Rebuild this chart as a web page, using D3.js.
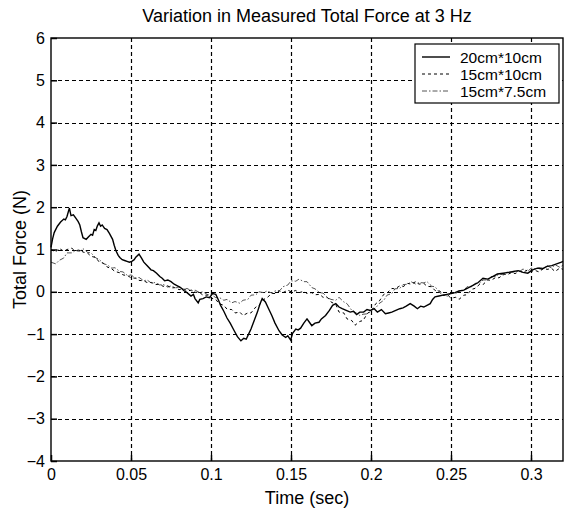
<!DOCTYPE html>
<html>
<head>
<meta charset="utf-8">
<script src="https://cdn.jsdelivr.net/npm/d3@7"></script>
<style>
  body { margin: 0; background: #fff; }
  text { font-family: "Liberation Sans", Arial, sans-serif; fill: #000; }
</style>
</head>
<body>
<div id="container"></div>
<script>
var width = 565,
    height = 511;

var margin = {top: 38, right: 2, bottom: 50, left: 51};

var xTicks = [0, 0.05, 0.1, 0.15, 0.2, 0.25, 0.3];
var yTicks = [-4, -3, -2, -1, 0, 1, 2, 3, 4, 5, 6];
var seriesNames = ["20cm*10cm", "15cm*10cm", "15cm*7.5cm"];

// 20cm*10cm (solid)
var force20x10 = [
    [0.000, 1.05], [0.001, 1.25], [0.002, 1.40], [0.004, 1.55], [0.006, 1.65],
    [0.008, 1.72], [0.009, 1.70], [0.010, 1.78], [0.0115, 1.98], [0.0125, 1.80],
    [0.014, 1.82], [0.0155, 1.74], [0.017, 1.66], [0.018, 1.58], [0.019, 1.42],
    [0.020, 1.28], [0.022, 1.24], [0.0235, 1.30], [0.025, 1.36], [0.026, 1.34],
    [0.027, 1.47], [0.028, 1.45], [0.029, 1.56], [0.030, 1.63], [0.031, 1.55],
    [0.032, 1.58], [0.0335, 1.50], [0.035, 1.47], [0.0365, 1.38], [0.0385, 1.24],
    [0.0395, 1.10], [0.0406, 0.97], [0.042, 0.86], [0.043, 0.81], [0.0445, 0.76],
    [0.046, 0.74], [0.0475, 0.72], [0.049, 0.70], [0.0505, 0.72], [0.052, 0.76],
    [0.053, 0.82], [0.055, 0.89], [0.0565, 0.80], [0.058, 0.70], [0.060, 0.62],
    [0.0625, 0.52], [0.064, 0.50], [0.066, 0.44], [0.068, 0.36], [0.0695, 0.32],
    [0.071, 0.26], [0.073, 0.28], [0.075, 0.24], [0.077, 0.18], [0.079, 0.14],
    [0.081, 0.10], [0.083, 0.03], [0.085, -0.02], [0.0875, -0.10], [0.089, -0.06],
    [0.090, -0.16], [0.092, -0.26], [0.093, -0.18], [0.095, -0.16], [0.097, -0.12],
    [0.099, -0.14], [0.101, -0.04], [0.103, -0.06], [0.1045, -0.18], [0.106, -0.32],
    [0.108, -0.46], [0.110, -0.62], [0.112, -0.74], [0.1145, -0.92], [0.1165, -1.06],
    [0.1187, -1.16], [0.1205, -1.10], [0.122, -1.12], [0.1235, -1.00], [0.125, -0.88],
    [0.127, -0.68], [0.129, -0.48], [0.1305, -0.30], [0.132, -0.16], [0.134, -0.24],
    [0.136, -0.40], [0.138, -0.56], [0.140, -0.74], [0.1425, -0.92], [0.1445, -1.02],
    [0.1467, -1.08], [0.148, -1.04], [0.1498, -1.14], [0.151, -0.98], [0.153, -0.88],
    [0.1545, -0.90], [0.156, -0.86], [0.158, -0.74], [0.160, -0.64], [0.1615, -0.72],
    [0.163, -0.80], [0.165, -0.74], [0.1675, -0.72], [0.169, -0.64], [0.1716, -0.56],
    [0.174, -0.44], [0.176, -0.32], [0.178, -0.28], [0.180, -0.36], [0.182, -0.40],
    [0.1845, -0.44], [0.187, -0.48], [0.189, -0.46], [0.191, -0.54], [0.193, -0.48],
    [0.1954, -0.48], [0.1975, -0.42], [0.1996, -0.44], [0.202, -0.40], [0.204, -0.48],
    [0.2065, -0.42], [0.209, -0.52], [0.211, -0.50], [0.213, -0.48], [0.2155, -0.44],
    [0.218, -0.40], [0.220, -0.38], [0.222, -0.34], [0.2245, -0.28], [0.227, -0.34],
    [0.229, -0.40], [0.231, -0.34], [0.233, -0.36], [0.235, -0.32], [0.237, -0.28],
    [0.2385, -0.18], [0.240, -0.12], [0.2425, -0.10], [0.245, -0.08], [0.2475, -0.06],
    [0.250, -0.04], [0.2525, -0.02], [0.255, 0.02], [0.258, 0.04], [0.261, 0.10],
    [0.264, 0.16], [0.267, 0.22], [0.270, 0.32], [0.273, 0.30], [0.276, 0.36],
    [0.279, 0.42], [0.2826, 0.44], [0.286, 0.46], [0.289, 0.48], [0.292, 0.50],
    [0.295, 0.46], [0.298, 0.44], [0.301, 0.52], [0.304, 0.56], [0.307, 0.54],
    [0.310, 0.60], [0.313, 0.62], [0.316, 0.66], [0.319, 0.70], [0.320, 0.72]
];

// 15cm*10cm (dashed)
var force15x10 = [
    [0.000, 1.00], [0.003, 0.94], [0.005, 1.03], [0.008, 0.96], [0.010, 1.00],
    [0.013, 1.03], [0.015, 0.97], [0.018, 0.99], [0.020, 0.94], [0.023, 0.91],
    [0.025, 0.84], [0.028, 0.81], [0.030, 0.71], [0.033, 0.67], [0.035, 0.59],
    [0.038, 0.54], [0.040, 0.48], [0.043, 0.45], [0.045, 0.40], [0.048, 0.38],
    [0.050, 0.33], [0.053, 0.32], [0.055, 0.27], [0.058, 0.26], [0.060, 0.22],
    [0.063, 0.22], [0.065, 0.17], [0.068, 0.18], [0.070, 0.13], [0.073, 0.14],
    [0.075, 0.09], [0.078, 0.10], [0.080, 0.05], [0.083, 0.07], [0.085, 0.02],
    [0.088, 0.04], [0.090, -0.01], [0.093, -0.02], [0.095, -0.08], [0.098, -0.08],
    [0.100, -0.15], [0.103, -0.18], [0.105, -0.28], [0.108, -0.32], [0.110, -0.41],
    [0.113, -0.42], [0.115, -0.50], [0.118, -0.48], [0.120, -0.56], [0.123, -0.50],
    [0.125, -0.50], [0.128, -0.36], [0.130, -0.32], [0.133, -0.18], [0.135, -0.14],
    [0.138, -0.04], [0.140, -0.04], [0.143, 0.02], [0.145, -0.02], [0.148, 0.04],
    [0.150, 0.00], [0.153, 0.03], [0.155, -0.02], [0.158, 0.01], [0.160, -0.04],
    [0.163, -0.02], [0.165, -0.07], [0.168, -0.06], [0.170, -0.13], [0.173, -0.14],
    [0.175, -0.24], [0.178, -0.30], [0.180, -0.48], [0.183, -0.50], [0.185, -0.64],
    [0.188, -0.68], [0.190, -0.79], [0.193, -0.70], [0.195, -0.68], [0.198, -0.50],
    [0.200, -0.47], [0.203, -0.28], [0.205, -0.23], [0.208, -0.06], [0.210, -0.03],
    [0.213, 0.08], [0.215, 0.07], [0.218, 0.14], [0.220, 0.12], [0.223, 0.20],
    [0.225, 0.18], [0.228, 0.24], [0.230, 0.18], [0.233, 0.20], [0.235, 0.13],
    [0.238, 0.12], [0.240, 0.03], [0.243, 0.02], [0.245, -0.08], [0.248, -0.08],
    [0.250, -0.15], [0.253, -0.13], [0.255, -0.18], [0.258, -0.08], [0.260, -0.07],
    [0.263, 0.06], [0.265, 0.08], [0.268, 0.18], [0.270, 0.17], [0.273, 0.28],
    [0.275, 0.27], [0.278, 0.34], [0.280, 0.33], [0.283, 0.42], [0.285, 0.40],
    [0.288, 0.46], [0.290, 0.43], [0.293, 0.49], [0.295, 0.46], [0.298, 0.52],
    [0.300, 0.48], [0.303, 0.50], [0.305, 0.47], [0.308, 0.56], [0.310, 0.53],
    [0.313, 0.55], [0.315, 0.48], [0.318, 0.56], [0.320, 0.53]
];

// 15cm*7.5cm (dash-dot)
var force15x75 = [
    [0.000, 0.70], [0.003, 0.66], [0.005, 0.74], [0.008, 0.80], [0.010, 0.92],
    [0.013, 0.92], [0.015, 0.97], [0.018, 0.96], [0.020, 1.02], [0.023, 0.93],
    [0.025, 0.92], [0.028, 0.80], [0.030, 0.77], [0.033, 0.66], [0.035, 0.64],
    [0.038, 0.56], [0.040, 0.57], [0.043, 0.48], [0.045, 0.47], [0.048, 0.38],
    [0.050, 0.40], [0.053, 0.32], [0.055, 0.34], [0.058, 0.26], [0.060, 0.28],
    [0.063, 0.20], [0.065, 0.22], [0.068, 0.16], [0.070, 0.18], [0.073, 0.11],
    [0.075, 0.14], [0.078, 0.09], [0.080, 0.12], [0.083, 0.05], [0.085, 0.08],
    [0.088, 0.02], [0.090, 0.04], [0.093, -0.02], [0.095, 0.00], [0.098, -0.07],
    [0.100, -0.06], [0.103, -0.14], [0.105, -0.13], [0.108, -0.20], [0.110, -0.18],
    [0.113, -0.26], [0.115, -0.23], [0.118, -0.27], [0.120, -0.20], [0.123, -0.18],
    [0.125, -0.08], [0.128, -0.07], [0.130, 0.00], [0.133, -0.02], [0.135, 0.02],
    [0.138, -0.03], [0.140, 0.02], [0.143, 0.03], [0.145, 0.12], [0.148, 0.16],
    [0.150, 0.26], [0.153, 0.25], [0.155, 0.30], [0.158, 0.24], [0.160, 0.24],
    [0.163, 0.10], [0.165, 0.07], [0.168, -0.02], [0.170, -0.03], [0.173, -0.14],
    [0.175, -0.18], [0.178, -0.20], [0.180, -0.13], [0.183, -0.24], [0.185, -0.28],
    [0.188, -0.44], [0.190, -0.48], [0.193, -0.56], [0.195, -0.53], [0.198, -0.52],
    [0.200, -0.43], [0.203, -0.38], [0.205, -0.28], [0.208, -0.20], [0.210, -0.08],
    [0.213, -0.04], [0.215, 0.07], [0.218, 0.08], [0.220, 0.17], [0.223, 0.18],
    [0.225, 0.24], [0.228, 0.18], [0.230, 0.22], [0.233, 0.21], [0.235, 0.24],
    [0.238, 0.13], [0.240, 0.12], [0.243, -0.02], [0.245, -0.08], [0.248, -0.10],
    [0.250, -0.03], [0.253, -0.04], [0.255, 0.02], [0.258, 0.03], [0.260, 0.12],
    [0.263, 0.12], [0.265, 0.20], [0.268, 0.20], [0.270, 0.28], [0.273, 0.28],
    [0.275, 0.36], [0.278, 0.36], [0.280, 0.42], [0.283, 0.40], [0.285, 0.47],
    [0.288, 0.46], [0.290, 0.48], [0.293, 0.48], [0.295, 0.54], [0.298, 0.48],
    [0.300, 0.56], [0.303, 0.54], [0.305, 0.57], [0.308, 0.56], [0.310, 0.62],
    [0.313, 0.56], [0.315, 0.64], [0.318, 0.58], [0.320, 0.63]
];

var svg = d3.select("#container")
    .append("svg")
    .attr("width", width)
    .attr("height", height);

var x = d3.scaleLinear()
    .domain([0, 0.32])
    .range([margin.left, width - margin.right]);

var y = d3.scaleLinear()
    .domain([-4, 6])
    .range([height - margin.bottom, margin.top]);

// grid
var grid = svg.append("g")
    .attr("stroke", "#000")
    .attr("stroke-width", 1.2)
    .attr("stroke-dasharray", "4,3");

grid.selectAll("line.vx")
    .data(xTicks.slice(1))
    .enter().append("line")
    .attr("x1", function (d) { return Math.round(x(d)) + 0.5; })
    .attr("x2", function (d) { return Math.round(x(d)) + 0.5; })
    .attr("y1", y(6))
    .attr("y2", y(-4));

grid.selectAll("line.hy")
    .data(yTicks.slice(1, -1))
    .enter().append("line")
    .attr("x1", x(0))
    .attr("x2", x(0.32))
    .attr("y1", function (d) { return Math.round(y(d)) + 0.5; })
    .attr("y2", function (d) { return Math.round(y(d)) + 0.5; });

// series
var line = d3.line()
    .x(function (d) { return x(d[0]); })
    .y(function (d) { return y(d[1]); });

var series = [
    {name: seriesNames[0], values: force20x10, dash: null, color: "#000", w: 1.4},
    {name: seriesNames[1], values: force15x10, dash: "3,3", color: "#000", w: 1},
    {name: seriesNames[2], values: force15x75, dash: "5,2,1.5,2", color: "#555", w: 1}
];

svg.append("g")
    .selectAll("path")
    .data(series.slice().reverse())
    .enter()
    .append("path")
    .attr("d", function (d) { return line(d.values); })
    .attr("fill", "none")
    .attr("stroke", function (d) { return d.color; })
    .attr("stroke-width", function (d) { return d.w; })
    .attr("stroke-dasharray", function (d) { return d.dash; });

// axes (MATLAB style, ticks inside)
var xAxis = svg.append("g")
    .attr("transform", "translate(0," + y(-4) + ")")
    .call(d3.axisBottom(x).tickValues(xTicks).tickSize(-6).tickPadding(8)
        .tickFormat(function (d) { return d === 0 ? "0" : String(d); }));

var yAxis = svg.append("g")
    .attr("transform", "translate(" + x(0) + ",0)")
    .call(d3.axisLeft(y).tickValues(yTicks).tickSize(-6).tickPadding(6));

[xAxis, yAxis].forEach(function (a) {
    a.select(".domain").remove();
    a.selectAll("text")
        .style("font-family", "'Liberation Sans', Arial, sans-serif")
        .style("font-size", "16px")
        .attr("fill", "#000");
    a.selectAll("line").attr("stroke", "#000").attr("stroke-width", 1.5);
});

// frame
svg.append("rect")
    .attr("x", x(0))
    .attr("y", y(6))
    .attr("width", x(0.32) - x(0))
    .attr("height", y(-4) - y(6))
    .attr("fill", "none")
    .attr("stroke", "#000")
    .attr("stroke-width", 1.4);

// title and labels
svg.append("text")
    .attr("x", (x(0) + x(0.32)) / 2)
    .attr("y", 22)
    .attr("text-anchor", "middle")
    .style("font-size", "18px")
    .text("Variation in Measured Total Force at 3 Hz");

svg.append("text")
    .attr("x", (x(0) + x(0.32)) / 2)
    .attr("y", 504)
    .attr("text-anchor", "middle")
    .style("font-size", "18px")
    .text("Time (sec)");

svg.append("text")
    .attr("transform", "translate(26," + y(1) + ") rotate(-90)")
    .attr("text-anchor", "middle")
    .style("font-size", "18px")
    .text("Total Force (N)");

// legend
var legend = svg.append("g");

legend.append("rect")
    .attr("x", 415)
    .attr("y", 44)
    .attr("width", 144)
    .attr("height", 59)
    .attr("fill", "#fff")
    .attr("stroke", "#000")
    .attr("stroke-width", 1.2);

var items = legend.selectAll("g.item")
    .data(series)
    .enter().append("g")
    .attr("transform", function (d, i) { return "translate(0," + (57 + i * 17) + ")"; });

items.append("line")
    .attr("x1", 422)
    .attr("x2", 450)
    .attr("stroke", function (d) { return d.color; })
    .attr("stroke-width", function (d) { return d.w; })
    .attr("stroke-dasharray", function (d) { return d.dash; });

items.append("text")
    .attr("x", 460)
    .attr("y", 5.5)
    .style("font-size", "15.5px")
    .text(function (d) { return d.name; });
</script>
</body>
</html>
